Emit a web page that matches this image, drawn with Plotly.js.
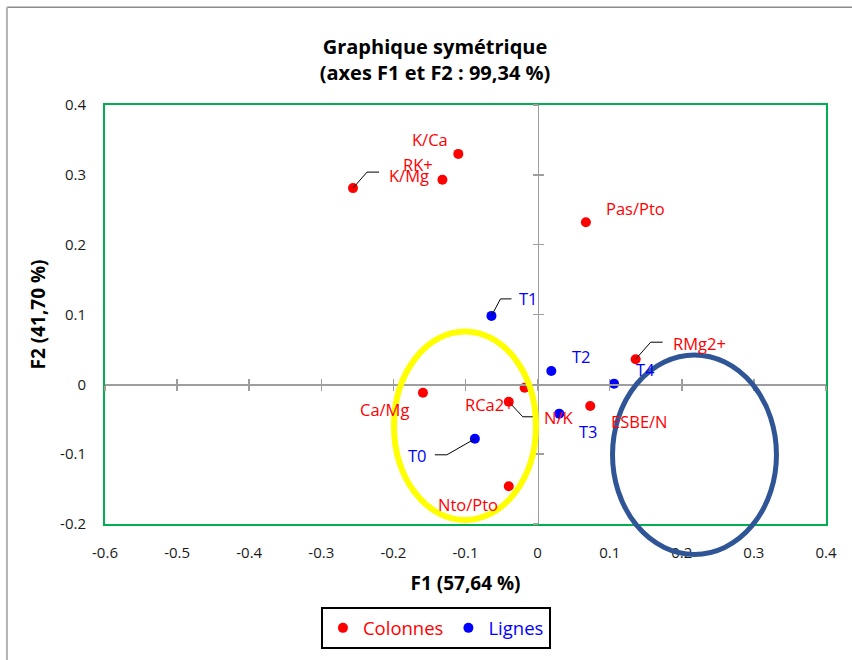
<!DOCTYPE html>
<html>
<head>
<meta charset="utf-8">
<script src="https://cdn.plot.ly/plotly-3.0.1.min.js"></script>
<style>
  html, body { margin: 0; padding: 0; background: #ffffff; }
  #chart { width: 852px; height: 660px; }
</style>
</head>
<body>
<div id="chart"></div>
<script>
// ---- data ----
const colLabels = ['K/Ca', 'RK+', 'K/Mg', 'Pas/Pto', 'RMg2+', 'RCa2+', 'N/K', 'Ca/Mg', 'ESBE/N', 'Nto/Pto'];
const colX = [-0.110, -0.132, -0.256, 0.067, 0.136, -0.018, -0.040, -0.159, 0.073, -0.040];
const colY = [0.330, 0.293, 0.281, 0.232, 0.036, -0.005, -0.025, -0.012, -0.031, -0.146];

const rowLabels = ['T0', 'T1', 'T2', 'T3', 'T4'];
const rowX = [-0.087, -0.064, 0.019, 0.030, 0.106];
const rowY = [-0.078, 0.098, 0.019, -0.042, 0.001];

const xTickVals = [-0.6, -0.5, -0.4, -0.3, -0.2, -0.1, 0, 0.1, 0.2, 0.3, 0.4];
const xTickText = ['-0.6', '-0.5', '-0.4', '-0.3', '-0.2', '-0.1', '0', '0.1', '0.2', '0.3', '0.4'];
const yTickVals = [-0.2, -0.1, 0, 0.1, 0.2, 0.3, 0.4];
const yTickText = ['-0.2', '-0.1', '0', '0.1', '0.2', '0.3', '0.4'];

const seriesNames = ['Colonnes', 'Lignes'];
const chartTitle = 'Graphique symétrique<br>(axes F1 et F2 : 99,34 %)';
const xTitle = 'F1 (57,64 %)';
const yTitle = 'F2 (41,70 %)';

// ---- styling (label offsets in screen px, leader paths in px) ----
const RED = '#FF0000', BLUE = '#0000FF';
const colOffsets = [[-28,-14],[-24,-15],[56,-13],[50,-14],[64,-16],[-35,17],[50,16],[-38,17],[49,16],[-41,18]];
const rowOffsets = [[-57,17],[37,-17],[30,-15],[29,18],[31,-14]];
const colLeaders = {2: 'M0,0 L14,16 L26,16', 4: 'M0,0 L15,17 L27,17', 6: 'M0,0 L14,-15 L25,-15'};
const rowLeaders = {0: 'M0,0 L-28,-16 L-40,-16', 1: 'M0,0 L9,17 L20,17'};

const FONT = 'Open Sans, Noto Sans, sans-serif';
const GRAY = '#9e9e9e';
const xRange = [xTickVals[0], xTickVals[xTickVals.length - 1]];
const yRange = [yTickVals[0], yTickVals[yTickVals.length - 1]];
const xZeroPos = (0 - yRange[0]) / (yRange[1] - yRange[0]);
const yZeroPos = (0 - xRange[0]) / (xRange[1] - xRange[0]);

const traces = [
  {type: 'scatter', x: [null], y: [null], xaxis: 'x', yaxis: 'y', showlegend: false, hoverinfo: 'skip'},
  {type: 'scatter', x: [null], y: [null], xaxis: 'x2', yaxis: 'y2', showlegend: false, hoverinfo: 'skip'},
  {type: 'scatter', mode: 'markers', name: '<span style="color:' + RED + '">' + seriesNames[0] + '</span>',
   x: colX, y: colY, text: colLabels, xaxis: 'x3', yaxis: 'y3',
   marker: {color: RED, size: 10}},
  {type: 'scatter', mode: 'markers', name: '<span style="color:' + BLUE + '">' + seriesNames[1] + '</span>',
   x: rowX, y: rowY, text: rowLabels, xaxis: 'x3', yaxis: 'y3',
   marker: {color: BLUE, size: 10}}
];

const annotations = [];
colLabels.forEach((t, i) => annotations.push({
  xref: 'x3', yref: 'y3', x: colX[i], y: colY[i], text: t, showarrow: false,
  xshift: colOffsets[i][0], yshift: -colOffsets[i][1],
  font: {family: FONT, size: 16.5, color: RED}
}));
rowLabels.forEach((t, i) => annotations.push({
  xref: 'x3', yref: 'y3', x: rowX[i], y: rowY[i], text: t, showarrow: false,
  xshift: rowOffsets[i][0], yshift: -rowOffsets[i][1],
  font: {family: FONT, size: 16.5, color: BLUE}
}));

const shapes = [];
Object.keys(colLeaders).forEach(k => shapes.push({
  type: 'path', xref: 'x3', yref: 'y3', xsizemode: 'pixel', ysizemode: 'pixel',
  xanchor: colX[k], yanchor: colY[k], path: colLeaders[k], line: {color: '#000000', width: 1}
}));
Object.keys(rowLeaders).forEach(k => shapes.push({
  type: 'path', xref: 'x3', yref: 'y3', xsizemode: 'pixel', ysizemode: 'pixel',
  xanchor: rowX[k], yanchor: rowY[k], path: rowLeaders[k], line: {color: '#000000', width: 1}
}));
// highlight ellipses (paper coords so they are not clipped)
shapes.push({type: 'circle', xref: 'paper', yref: 'paper', x0: 0.4008, x1: 0.5978, y0: 0.0095, y1: 0.4595,
  line: {color: '#FFFF00', width: 6}, layer: 'above'});
shapes.push({type: 'circle', xref: 'paper', yref: 'paper', x0: 0.7039, x1: 0.9313, y0: -0.0726, y1: 0.4036,
  line: {color: '#2F5597', width: 5}, layer: 'above'});
// outer chart frame (visible top and left edges)
shapes.push({type: 'line', xref: 'paper', yref: 'paper', x0: -0.136, x1: 1.05, y0: 1.2333, y1: 1.2333,
  line: {color: '#8c8c8c', width: 1.5}});
shapes.push({type: 'line', xref: 'paper', yref: 'paper', x0: -0.136, x1: -0.136, y0: 1.2333, y1: -0.33,
  line: {color: '#b3b3b3', width: 2}});

const crossX = (ticks) => ({
  overlaying: 'x', anchor: 'free', position: xZeroPos, range: xRange,
  showline: true, linecolor: GRAY, linewidth: 1.5, ticks: ticks, ticklen: 5, tickwidth: 1.5, tickcolor: GRAY,
  tickvals: xTickVals, showticklabels: false, showgrid: false, zeroline: false, fixedrange: true
});
const crossY = (ticks) => ({
  overlaying: 'y', anchor: 'free', position: yZeroPos, range: yRange,
  showline: true, linecolor: GRAY, linewidth: 1.5, ticks: ticks, ticklen: 5, tickwidth: 1.5, tickcolor: GRAY,
  tickvals: yTickVals, showticklabels: false, showgrid: false, zeroline: false, fixedrange: true
});

const layout = {
  width: 852, height: 660,
  margin: {l: 105, r: 26, t: 105, b: 135},
  paper_bgcolor: '#ffffff', plot_bgcolor: '#ffffff',
  font: {family: FONT, color: '#000000'},
  title: {text: '<b>' + chartTitle.replace('<br>', '</b><br><b>') + '</b>',
    font: {family: FONT, size: 20, color: '#000000'},
    xref: 'container', yref: 'container', x: 0.5106, xanchor: 'center', y: 1 - 54 / 660, yanchor: 'middle'},
  xaxis: {
    range: xRange, tickvals: xTickVals, ticktext: xTickText, ticks: '', ticklabelstandoff: 14,
    showline: true, mirror: true, linecolor: '#00B050', linewidth: 2,
    showgrid: false, zeroline: false, fixedrange: true,
    tickfont: {family: FONT, size: 15, color: '#1a1a1a'},
    title: {text: '<b>' + xTitle + '</b>', font: {family: FONT, size: 19, color: '#000000'}, standoff: 16}
  },
  yaxis: {
    range: yRange, tickvals: yTickVals, ticktext: yTickText, ticks: '', ticklabelstandoff: 14,
    showline: true, mirror: true, linecolor: '#00B050', linewidth: 2,
    showgrid: false, zeroline: false, fixedrange: true,
    tickfont: {family: FONT, size: 15, color: '#1a1a1a'},
    title: {text: '<b>' + yTitle + '</b>', font: {family: FONT, size: 19, color: '#000000'}, standoff: 9}
  },
  xaxis2: crossX('outside'), yaxis2: crossY('outside'),
  xaxis3: crossX('inside'), yaxis3: crossY('inside'),
  showlegend: true,
  legend: {orientation: 'h', x: 0.459, xanchor: 'center', y: -0.246, yanchor: 'middle',
    bordercolor: '#000000', borderwidth: 2, bgcolor: '#ffffff',
    font: {family: FONT, size: 18.5}},
  annotations: annotations,
  shapes: shapes
};

Plotly.newPlot('chart', traces, layout, {displayModeBar: false, staticPlot: true});
</script>
</body>
</html>
